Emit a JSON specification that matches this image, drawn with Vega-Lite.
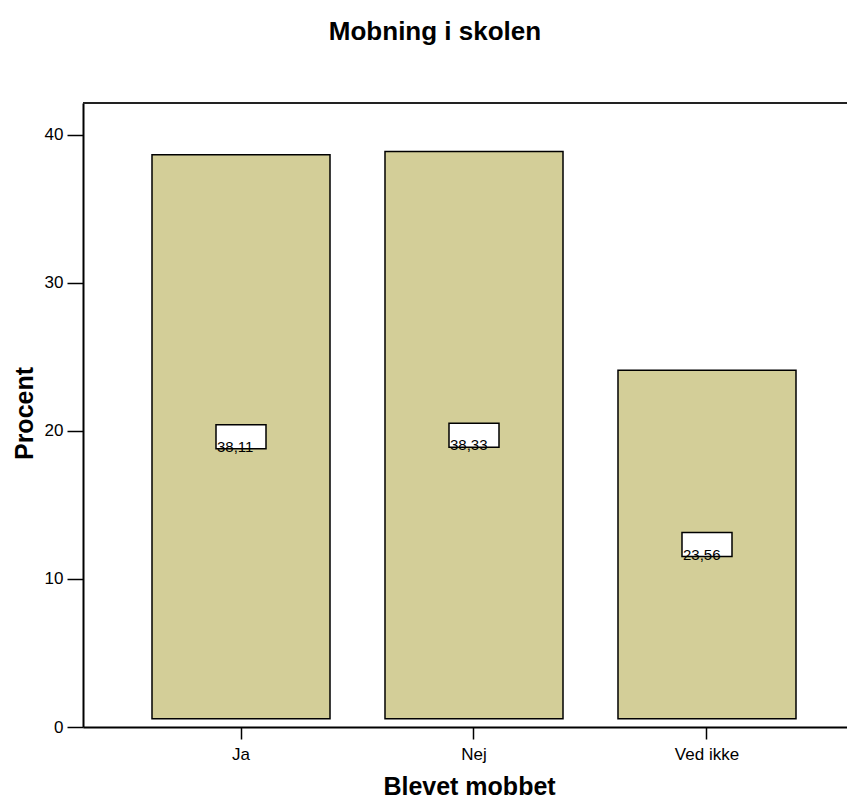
{
  "$schema": "https://vega.github.io/schema/vega-lite/v6.json",
  "width": 764,
  "height": 624,
  "autosize": {"type": "none"},
  "padding": {"left": 83, "top": 103, "right": 0, "bottom": 72},
  "background": "white",
  "title": {"text": "Mobning i skolen", "font": "Liberation Sans", "fontSize": 26, "fontWeight": "bold", "color": "#000000", "anchor": "middle", "frame": "group", "dx": -30, "offset": 57},
  "config": {"view": {"stroke": null}, "font": "Liberation Sans"},
  "data": {"values": [
    {"cat": "Ja", "value": 38.11, "label": "38,11"},
    {"cat": "Nej", "value": 38.33, "label": "38,33"},
    {"cat": "Ved ikke", "value": 23.56, "label": "23,56"}
  ]},
  "layer": [
    {
      "mark": {"type": "point", "opacity": 0},
      "encoding": {
        "x": {"field": "cat", "type": "nominal", "sort": null,
          "scale": {"paddingInner": 0.236, "paddingOuter": 0.2575, "align": 0.575},
          "axis": {"labelAngle": 0, "labelFont": "Liberation Sans", "labelFontSize": 17, "labelColor": "#000000", "tickSize": 12, "tickColor": "#000000", "tickWidth": 1.5, "labelPadding": 7, "domainColor": "#000000", "domainWidth": 2, "title": "Blevet mobbet", "titleFont": "Liberation Sans", "titleFontSize": 25, "titleFontWeight": "bold", "titleColor": "#000000", "titleX": 386, "titleY": 67, "titleBaseline": "alphabetic", "titleAlign": "center"}},
        "y": {"field": "value", "type": "quantitative",
          "scale": {"domain": [0, 42.16], "nice": false, "zero": true},
          "axis": {"values": [0, 10, 20, 30, 40], "grid": false, "labelFont": "Liberation Sans", "labelFontSize": 17, "labelColor": "#000000", "tickSize": 16, "tickColor": "#000000", "tickWidth": 1.5, "labelPadding": 4, "domainColor": "#000000", "domainWidth": 2, "title": "Procent", "titleFont": "Liberation Sans", "titleFontSize": 25, "titleFontWeight": "bold", "titleColor": "#000000", "titleX": -59, "titleY": 310, "titleAngle": -90, "titleBaseline": "middle", "titleAlign": "center"}}
      }
    },
    {
      "mark": {"type": "rule", "color": "#222222", "strokeWidth": 2},
      "encoding": {
        "y": {"datum": 42.16, "type": "quantitative", "scale": {"domain": [0, 42.16], "nice": false}, "axis": null}
      }
    },
    {
      "mark": {"type": "bar", "fill": "#D3CE98", "stroke": "#000000", "strokeWidth": 1.5},
      "encoding": {
        "x": {"field": "cat", "type": "nominal", "sort": null},
        "y": {"field": "value", "type": "quantitative", "scale": {"domain": [-0.55, 41.61], "nice": false, "zero": false}, "axis": null}
      }
    },
    {
      "mark": {"type": "point", "shape": "M-1,-0.48L1,-0.48L1,0.48L-1,0.48Z", "size": 2500, "filled": true, "fill": "#ffffff", "stroke": "#000000", "strokeWidth": 1.5, "opacity": 1},
      "encoding": {
        "x": {"field": "cat", "type": "nominal", "sort": null},
        "y": {"field": "value", "type": "quantitative", "scale": {"domain": [-1.1, 83.22], "nice": false, "zero": false}, "axis": null}
      }
    },
    {
      "mark": {"type": "text", "align": "left", "baseline": "alphabetic", "dx": -24, "dy": 15, "font": "Liberation Sans", "fontSize": 15, "color": "#000000"},
      "encoding": {
        "x": {"field": "cat", "type": "nominal", "sort": null},
        "y": {"field": "value", "type": "quantitative", "scale": {"domain": [-1.1, 83.22], "nice": false, "zero": false}, "axis": null},
        "text": {"field": "label"}
      }
    }
  ],
  "resolve": {"scale": {"y": "independent"}}
}
